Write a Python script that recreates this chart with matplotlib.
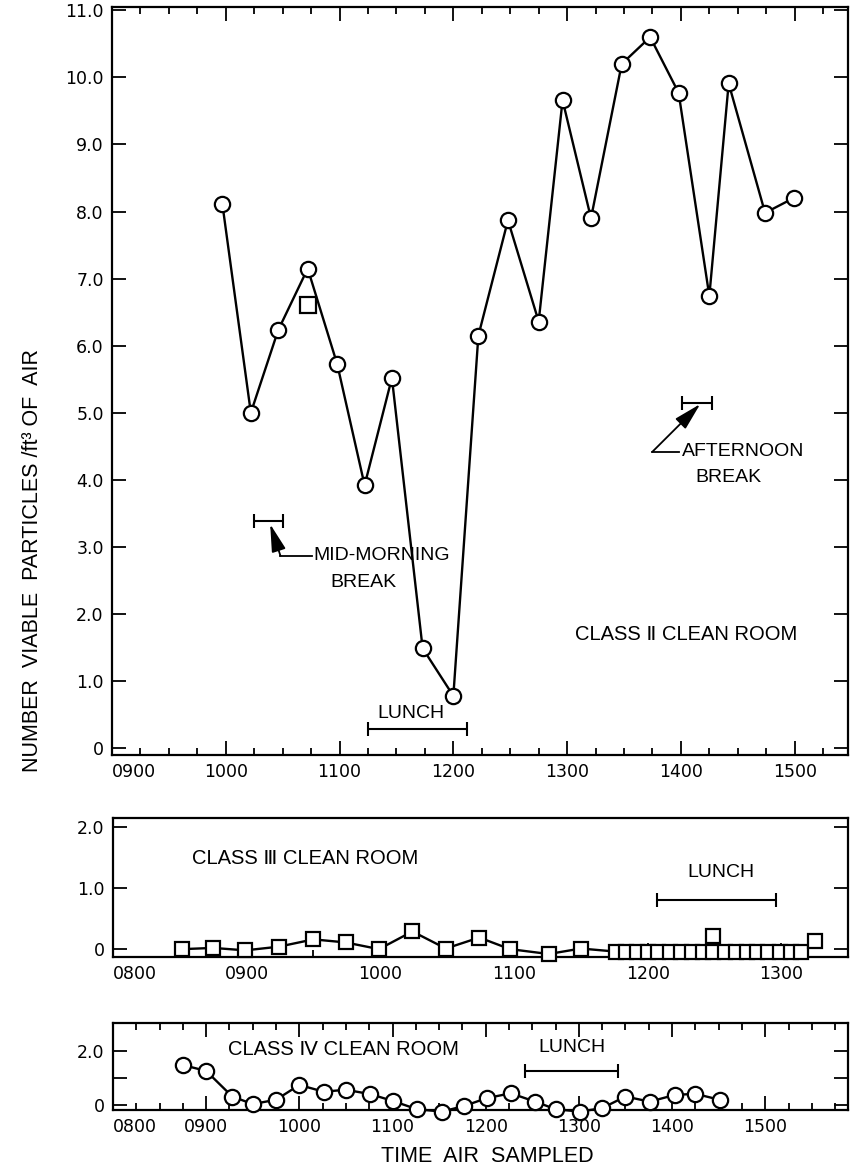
import matplotlib
matplotlib.use("Agg")
import matplotlib.pyplot as plt
from matplotlib.ticker import MultipleLocator

plt.rcParams['font.family'] = ['Liberation Sans', 'DejaVu Sans']

# time of day as decimal hours
# Class II clean room
c2_time = [9.97, 10.22, 10.46, 10.72, 10.98, 11.22, 11.46, 11.73, 12.00, 12.22, 12.48,
           12.75, 12.96, 13.21, 13.48, 13.73, 13.98, 14.25, 14.42, 14.74, 14.99]
c2_count = [8.11, 5.00, 6.23, 7.15, 5.72, 3.92, 5.52, 1.49, 0.78, 6.15, 7.87,
            6.36, 9.66, 7.90, 10.20, 10.60, 9.77, 6.74, 9.91, 7.98, 8.20]
c2_sq_time = [10.72]
c2_sq_count = [6.60]

# Class III clean room
c3_time = [8.52, 8.75, 8.99, 9.24, 9.50, 9.74, 9.99, 10.24, 10.49, 10.74, 10.97, 11.26, 11.50,
           11.76, 11.84, 11.92, 12.00, 12.08, 12.17, 12.25, 12.33, 12.41, 12.49, 12.58,
           12.66, 12.74, 12.82, 12.90, 12.99, 13.07, 13.15, 13.25]
c3_count = [0.00, 0.02, -0.02, 0.04, 0.16, 0.11, 0.00, 0.29, 0.01, 0.19, 0.00, -0.08, 0.01,
            -0.04, -0.04, -0.04, -0.04, -0.04, -0.04, -0.04, -0.04, -0.04, -0.04, -0.04,
            -0.04, -0.04, -0.04, -0.04, -0.04, -0.04, -0.04, 0.14]
c3_extra_time = [12.49]
c3_extra_count = [0.22]

# Class IV clean room
c4_time = [8.75, 9.00, 9.28, 9.50, 9.75, 10.00, 10.26, 10.50, 10.76, 11.00, 11.26, 11.53,
           11.77, 12.01, 12.27, 12.53, 12.75, 13.01, 13.25, 13.50, 13.76, 14.03, 14.25, 14.51]
c4_count = [1.48, 1.26, 0.31, 0.03, 0.19, 0.74, 0.49, 0.56, 0.40, 0.15, -0.16, -0.25,
            -0.04, 0.25, 0.43, 0.12, -0.16, -0.25, -0.12, 0.31, 0.12, 0.37, 0.41, 0.19]

# break / lunch periods (start, end, level)
c2_morning = (10.25, 10.50, 3.38)
c2_afternoon = (14.01, 14.27, 5.15)
c2_lunch = (11.25, 12.12, 0.29)
c3_lunch = (12.07, 12.96, 0.80)
c4_lunch = (12.42, 13.42, 1.26)

TICKFONT = dict(fontfamily='DejaVu Sans', fontsize=12.5)


def style(ax, xlim, ylim, hours, yticks, ylabels, minor, top=True):
    ax.set_xlim(*xlim)
    ax.set_ylim(*ylim)
    ax.set_xticks(hours)
    ax.set_xticklabels([f"{h:02d}00" for h in hours], **TICKFONT)
    ax.xaxis.set_minor_locator(MultipleLocator(minor))
    ax.set_yticks(yticks)
    ax.set_yticklabels(ylabels, **TICKFONT)
    ax.tick_params(which='both', direction='in', top=top, right=True, width=1.3)
    ax.tick_params(which='major', length=10, pad=6)
    ax.tick_params(which='minor', length=5)
    ax.get_xticklabels()[0].set_horizontalalignment('left')
    for s in ax.spines.values():
        s.set_linewidth(1.6)


def bar(ax, period):
    a, b, y = period
    ax.errorbar([(a + b) / 2], [y], xerr=[(b - a) / 2], fmt='none', ecolor='k',
                elinewidth=1.5, capsize=5, capthick=1.5)


fig = plt.figure(figsize=(8.5, 11.71), dpi=100)
ax1 = fig.add_axes([0.1318, 0.3553, 0.866, 0.6388])
ax2 = fig.add_axes([0.1329, 0.1827, 0.865, 0.1187])
ax3 = fig.add_axes([0.1329, 0.0521, 0.865, 0.0743])

# --- Class II ---
ax1.plot(c2_time, c2_count, '-o', color='k', lw=1.7, ms=11, mfc='white', mec='k', mew=1.6, zorder=3)
ax1.plot(c2_sq_time, c2_sq_count, 's', ms=11, mfc='white', mec='k', mew=1.6, zorder=4)
style(ax1, (9.0, 15.47), (-0.1, 11.05), list(range(9, 16)),
      list(range(0, 12)), ['0'] + [f"{v:.1f}" for v in range(1, 12)], 0.25)

bar(ax1, c2_morning)
bar(ax1, c2_afternoon)
bar(ax1, c2_lunch)
ax1.text(11.63, 0.52, "LUNCH", fontsize=14, ha='center', va='center')

arrow = dict(arrowstyle='-|>,head_length=0.85,head_width=0.22', color='k', lw=1.3,
             mutation_scale=20, shrinkA=0, shrinkB=0)
ax1.annotate("", xy=(10.39, 3.34), xytext=(10.48, 2.87), arrowprops=arrow)
ax1.plot([10.48, 10.76], [2.87, 2.87], color='k', lw=1.3)
ax1.text(10.77, 2.87, "MID-MORNING", fontsize=14, ha='left', va='center')
ax1.text(11.21, 2.47, "BREAK", fontsize=14, ha='center', va='center')

ax1.annotate("", xy=(14.17, 5.13), xytext=(13.75, 4.42), arrowprops=arrow)
ax1.plot([13.75, 13.98], [4.42, 4.42], color='k', lw=1.3)
ax1.text(14.01, 4.42, "AFTERNOON", fontsize=14, ha='left', va='center')
ax1.text(14.42, 4.04, "BREAK", fontsize=14, ha='center', va='center')

ax1.text(14.05, 1.70, "CLASS \u2161 CLEAN ROOM", fontsize=14.5, ha='center', va='center')

# --- Class III ---
ax2.plot(c3_time, c3_count, '-s', color='k', lw=1.7, ms=10, mfc='white', mec='k', mew=1.6,
         zorder=3, clip_on=False)
ax2.plot(c3_extra_time, c3_extra_count, 's', ms=10, mfc='white', mec='k', mew=1.6, zorder=4)
style(ax2, (8.0, 13.5), (-0.13, 2.15), list(range(8, 14)),
      [0, 1, 2], ['0', '1.0', '2.0'], 0.5, top=False)
bar(ax2, c3_lunch)
ax2.text(12.55, 1.25, "LUNCH", fontsize=14, ha='center', va='center')
ax2.text(9.44, 1.49, "CLASS \u2162 CLEAN ROOM", fontsize=14.5, ha='center', va='center')

# --- Class IV ---
ax3.plot(c4_time, c4_count, '-o', color='k', lw=1.7, ms=11, mfc='white', mec='k', mew=1.6,
         zorder=3, clip_on=False)
style(ax3, (8.0, 15.89), (-0.19, 3.04), list(range(8, 16)),
      [0, 1, 2], ['0', '', '2.0'], 0.25)
bar(ax3, c4_lunch)
ax3.text(12.93, 2.12, "LUNCH", fontsize=14, ha='center', va='center')
ax3.text(10.47, 2.04, "CLASS \u2163 CLEAN ROOM", fontsize=14.5, ha='center', va='center')

fig.text(0.038, 1 - 560 / 1171, "NUMBER  VIABLE  PARTICLES /ft\u00b3 OF  AIR",
         rotation=90, fontsize=15.5, ha='center', va='center')
fig.text(487 / 850, 1 - 1157 / 1171, "TIME  AIR  SAMPLED", fontsize=15.5,
         ha='center', va='center')

fig.savefig("out.png", dpi=100)
